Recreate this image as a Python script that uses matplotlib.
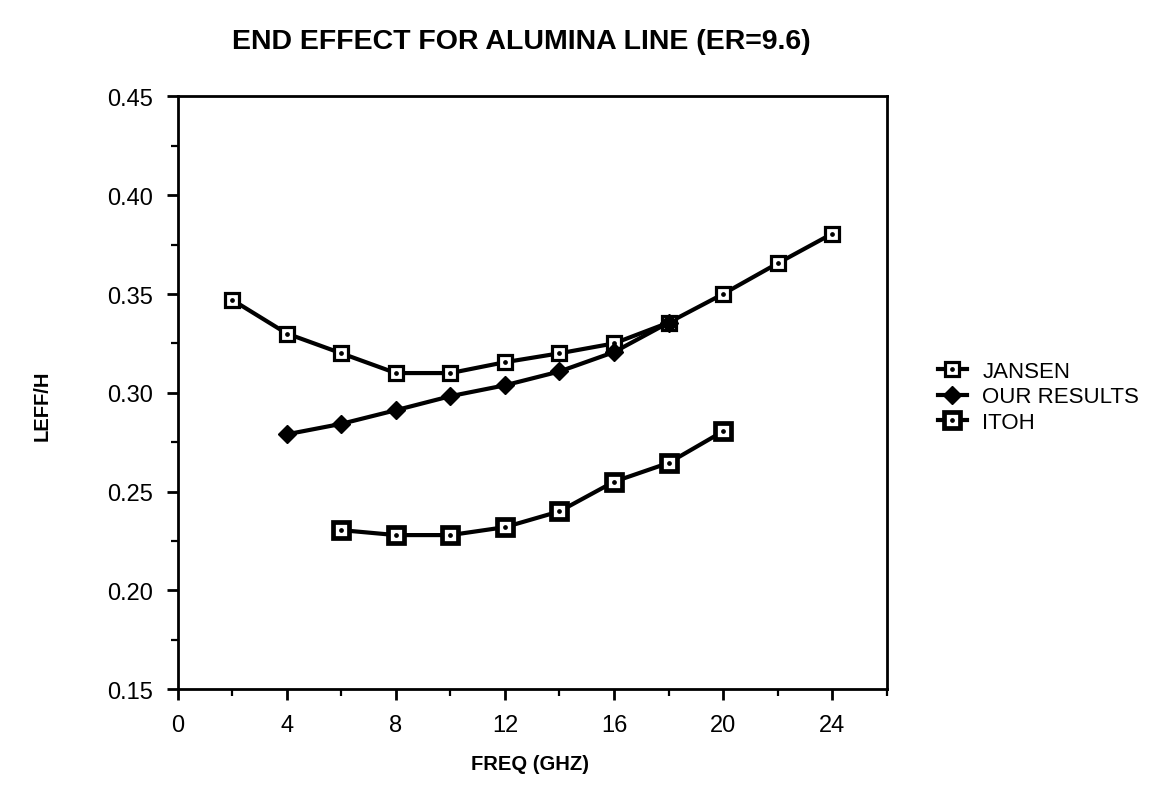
import matplotlib
matplotlib.use("Agg")
import matplotlib.pyplot as plt
from matplotlib.ticker import MultipleLocator

plt.rcParams['font.family'] = ['Liberation Sans', 'DejaVu Sans']

# values
freq_jansen = [2, 4, 6, 8, 10, 12, 14, 16, 18, 20, 22, 24]
leff_jansen = [0.347, 0.330, 0.320, 0.310, 0.310, 0.3155, 0.320, 0.325, 0.3355, 0.350, 0.3655, 0.3805]

freq_ours = [4, 6, 8, 10, 12, 14, 16, 18]
leff_ours = [0.279, 0.2843, 0.2912, 0.2983, 0.3038, 0.3108, 0.3206, 0.3355]

freq_itoh = [6, 8, 10, 12, 14, 16, 18, 20]
leff_itoh = [0.2305, 0.228, 0.228, 0.232, 0.240, 0.255, 0.2645, 0.2805]

fig = plt.figure(figsize=(11.62, 8.12), dpi=100)
ax = fig.add_axes([0.153, 0.150, 0.610, 0.730])

# JANSEN
j_line, = ax.plot(freq_jansen, leff_jansen, color='black', lw=3.0, marker='s',
                  ms=10, mfc='white', mec='black', mew=2.3, zorder=3)
j_dot, = ax.plot(freq_jansen, leff_jansen, ls='none', marker='o', ms=2.4,
                 color='black', zorder=4)
# OUR RESULTS
o_line, = ax.plot(freq_ours, leff_ours, color='black', lw=3.0, marker='D',
                  ms=9.5, mfc='black', mec='black', zorder=3)
# ITOH
i_line, = ax.plot(freq_itoh, leff_itoh, color='black', lw=3.0, marker='s',
                  ms=11, mfc='white', mec='black', mew=3.4, zorder=3)
i_dot, = ax.plot(freq_itoh, leff_itoh, ls='none', marker='o', ms=2.4,
                 color='black', zorder=4)

ax.set_xlim(0, 26)
ax.set_ylim(0.15, 0.45)
ax.xaxis.set_major_locator(MultipleLocator(4))
ax.xaxis.set_minor_locator(MultipleLocator(2))
ax.yaxis.set_major_locator(MultipleLocator(0.05))
ax.yaxis.set_minor_locator(MultipleLocator(0.025))
ax.yaxis.set_major_formatter(matplotlib.ticker.FormatStrFormatter('%.2f'))

for s in ax.spines.values():
    s.set_linewidth(2.0)
ax.tick_params(which='major', direction='out', length=8, width=2.0,
               labelsize=17, pad=10)
ax.tick_params(which='minor', direction='out', length=5, width=1.6)

fig.text(0.449, 0.948, 'END EFFECT FOR ALUMINA LINE (ER=9.6)', ha='center',
         va='center', fontsize=20.5, fontweight='bold')
fig.text(0.456, 0.058, 'FREQ (GHZ)', ha='center', va='center',
         fontsize=14.5, fontweight='bold')
fig.text(0.036, 0.50, 'LEFF/H', ha='center', va='center', rotation=90,
         fontsize=14.5, fontweight='bold')

fig.legend([(j_line, j_dot), o_line, (i_line, i_dot)],
           ['JANSEN', 'OUR RESULTS', 'ITOH'],
           loc='center left', bbox_to_anchor=(0.79, 0.51), frameon=False,
           fontsize=16, handlelength=1.3, handletextpad=0.7, labelspacing=0.2)

fig.savefig('out.png', dpi=100)
